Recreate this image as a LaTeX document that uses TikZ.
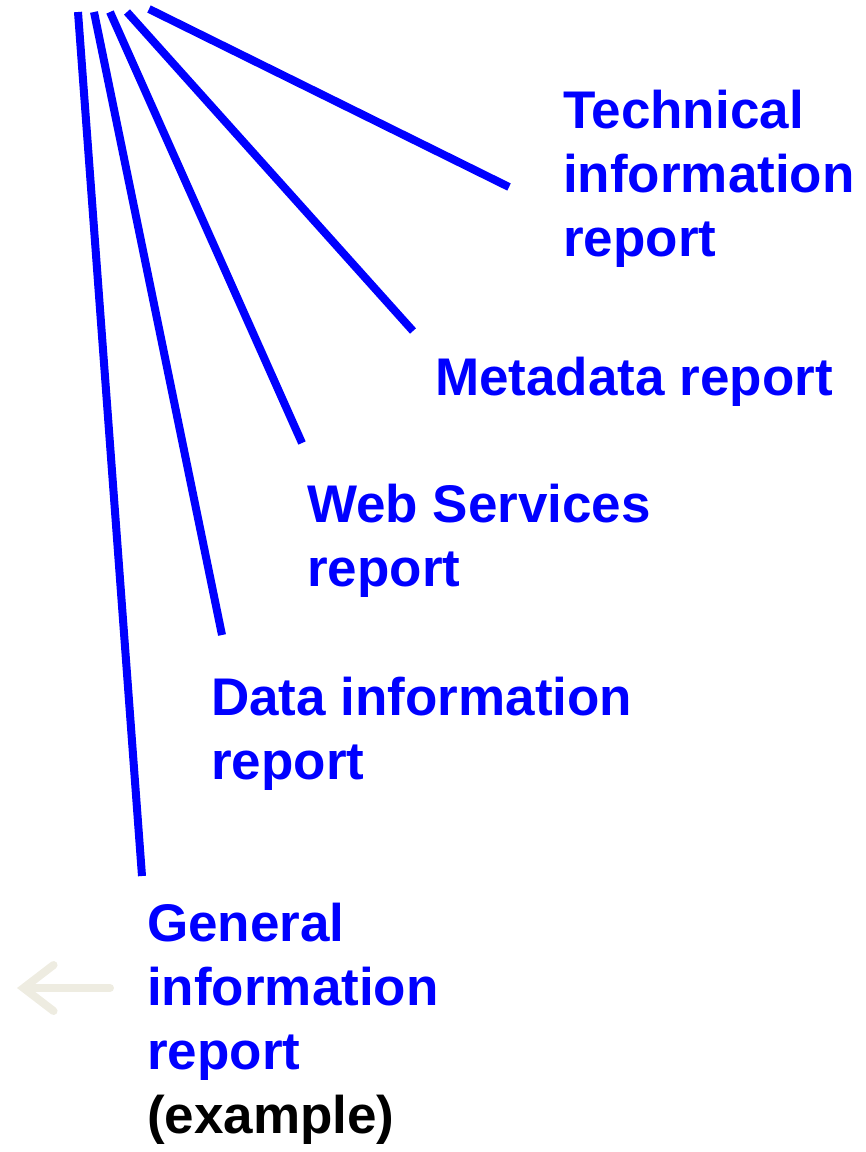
\documentclass[tikz,border=0pt]{standalone}
\usepackage{fontspec}
\setmainfont{Liberation Sans}
\usetikzlibrary{arrows.meta}
\definecolor{repblue}{RGB}{0,0,255}
\definecolor{beige}{RGB}{238,236,225}
\begin{document}
\begin{tikzpicture}[x=1pt,y=-1pt,
  lbl/.style={anchor=base west,inner sep=0pt,align=left,text=repblue,
    font=\fontsize{53}{64}\selectfont\bfseries},
  ray/.style={draw=repblue,line width=8pt}]
\useasboundingbox (0,0) rectangle (866,1152);
% top ends
\coordinate (t1) at (78,12);
\coordinate (t2) at (94,12);
\coordinate (t3) at (110,12);
\coordinate (t4) at (127,12);
\coordinate (t5) at (149,9);
% bottom ends
\coordinate (b1) at (142,876);
\coordinate (b2) at (222,635);
\coordinate (b3) at (302,443);
\coordinate (b4) at (413,331);
\coordinate (b5) at (509,187);
\draw[ray] (t1) -- (b1);
\draw[ray] (t2) -- (b2);
\draw[ray] (t3) -- (b3);
\draw[ray] (t4) -- (b4);
\draw[ray] (t5) -- (b5);
\node[lbl] (tech) at (563,256) {Technical\\information\\report};
\node[lbl] (meta) at (435,395) {Metadata report};
\node[lbl] (web) at (307,586) {Web Services\\report};
\node[lbl] (data) at (211,779) {Data information\\report};
\node[lbl] (gen) at (147,1133) {General\\information\\report\\\textcolor{black}{(example)}};
\coordinate (as) at (110,988);
\coordinate (ae) at (17,988);
\draw[draw=beige,line width=8pt,line cap=round,
  -{Straight Barb[length=30pt,width=46pt,line cap=round]}] (as) -- (ae);
\end{tikzpicture}
\end{document}
